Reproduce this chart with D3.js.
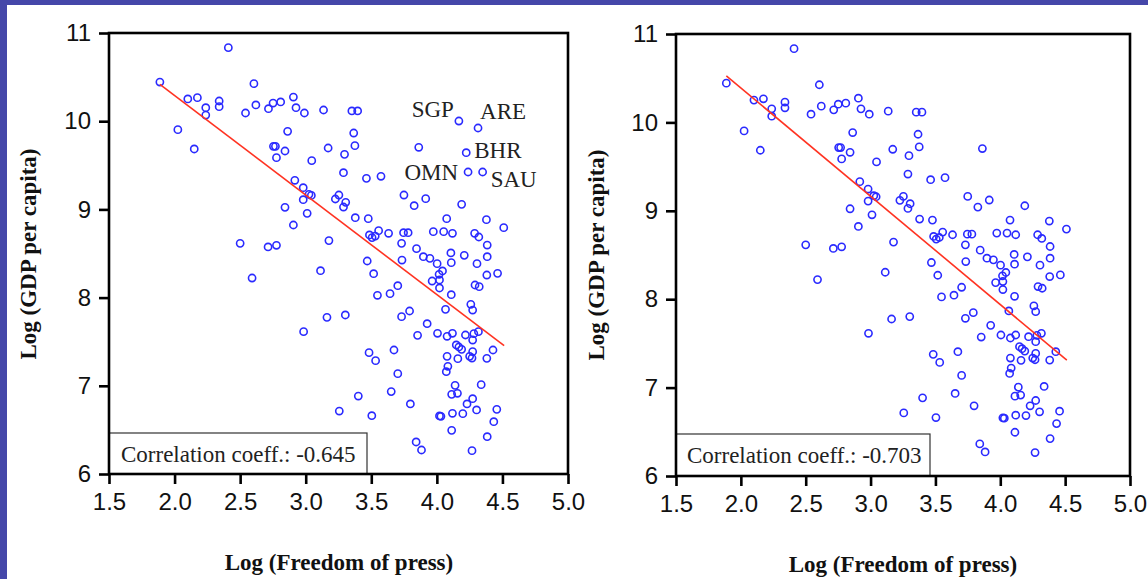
<!DOCTYPE html>
<html>
<head>
<meta charset="utf-8">
<script src="https://cdn.jsdelivr.net/npm/d3@7"></script>
<style>
  html, body { margin: 0; padding: 0; background: #fff; }
  svg { display: block; }
</style>
</head>
<body>
<svg id="chart" width="1148" height="579"></svg>
<script>
// ---------------- DATA ----------------
const xTicks = [1.5, 2.0, 2.5, 3.0, 3.5, 4.0, 4.5, 5.0];
const yTicks = [6, 7, 8, 9, 10, 11];

// points shared by both panels: Log(Freedom of press), Log(GDP per capita)
const freedom = [
  1.888, 2.410, 2.025, 2.150, 2.101, 2.174, 2.238, 2.238, 2.340, 2.340,
  2.541, 2.605, 2.620, 2.716, 2.751, 2.809, 2.906, 2.926, 2.990, 3.136,
  3.352, 3.396, 2.862, 2.754, 2.769, 2.842, 2.777, 3.046, 3.171, 3.366,
  3.375, 3.296, 3.288, 3.463, 3.574, 3.862,
  2.917, 2.981, 3.025, 3.043, 2.981, 2.842, 3.011, 2.906, 3.253, 3.226,
  3.305, 3.288, 3.378, 3.477, 3.749, 3.827, 3.915, 4.189, 4.075, 4.378,
  4.510, 3.556, 3.632, 3.486, 3.506, 3.530, 3.746, 3.781, 3.731, 3.973,
  4.052, 4.119, 4.288, 4.320, 4.384, 3.845, 3.897, 3.947, 4.002, 4.107,
  4.110, 4.209, 4.306, 4.384, 4.381, 4.463, 4.043, 4.017, 4.020, 3.964,
  4.020, 4.110, 4.291, 4.323, 3.702, 3.643, 3.547, 3.469, 3.734, 3.518,
  2.500, 2.713, 2.777, 3.177, 2.591, 3.113,
  4.066, 4.259, 4.273, 3.792, 3.731, 3.162, 3.302, 3.926, 2.984, 3.853,
  4.005, 4.078, 4.119, 4.218, 4.282, 4.317, 4.273, 4.148, 4.168, 4.189,
  4.078, 4.160, 4.250, 4.268, 4.273, 4.428, 4.381, 3.483, 3.533, 3.673,
  3.702, 4.072, 4.084, 4.139, 4.113, 4.157, 4.338, 3.652, 3.401, 3.256,
  3.504, 3.798, 4.273, 4.230, 4.303, 4.457, 4.020, 4.031, 4.119, 4.198,
  4.434, 4.113, 4.384, 3.842, 3.883, 4.268
];
const gdp = [
  10.444, 10.834, 9.904, 9.685, 10.252, 10.267, 10.153, 10.070, 10.229, 10.165,
  10.093, 10.426, 10.184, 10.142, 10.206, 10.218, 10.274, 10.153, 10.093, 10.127,
  10.116, 10.116, 9.885, 9.715, 9.715, 9.662, 9.587, 9.553, 9.696, 9.866,
  9.723, 9.624, 9.416, 9.352, 9.375, 9.704,
  9.330, 9.246, 9.171, 9.159, 9.110, 9.023, 8.955, 8.823, 9.163, 9.118,
  9.080, 9.027, 8.906, 8.895, 9.163, 9.042, 9.122, 9.057, 8.895, 8.884,
  8.793, 8.759, 8.729, 8.710, 8.680, 8.698, 8.736, 8.736, 8.615, 8.748,
  8.748, 8.729, 8.729, 8.687, 8.596, 8.555, 8.464, 8.445, 8.385, 8.506,
  8.396, 8.479, 8.385, 8.464, 8.256, 8.275, 8.302, 8.264, 8.200, 8.188,
  8.109, 8.033, 8.143, 8.124, 8.135, 8.045, 8.026, 8.415, 8.426, 8.271,
  8.615, 8.574, 8.593, 8.646, 8.222, 8.305,
  7.867, 7.924, 7.859, 7.848, 7.784, 7.776, 7.803, 7.704, 7.614, 7.572,
  7.595, 7.561, 7.595, 7.576, 7.591, 7.614, 7.519, 7.463, 7.440, 7.413,
  7.334, 7.308, 7.334, 7.315, 7.387, 7.406, 7.311, 7.376, 7.285, 7.406,
  7.138, 7.160, 7.221, 7.005, 6.903, 6.915, 7.013, 6.934, 6.884, 6.714,
  6.661, 6.794, 6.854, 6.794, 6.726, 6.733, 6.658, 6.654, 6.688, 6.684,
  6.593, 6.495, 6.423, 6.363, 6.272, 6.265
];

// labelled countries shown only in the left panel
const outlierCodes   = ["SGP", "ARE", "BHR", "OMN", "SAU"];
const outlierFreedom = [4.168, 4.314, 4.224, 4.238, 4.349];
const outlierGdp     = [10.002, 9.923, 9.643, 9.424, 9.424];

// fitted lines (endpoints)
const fitX      = [1.888, 4.513];
const leftFitY  = [10.418, 7.455];
const rightFitY = [10.527, 7.311];

const corrLabels = ["Correlation coeff.: -0.645", "Correlation coeff.: -0.703"];
const xTitle = "Log (Freedom of press)";
const yTitle = "Log (GDP per capita)";

// ---------------- LAYOUT / STYLE ----------------
const panels = [
  { x0: 109, x1: 568, y0: 33, y1: 474, ytx: 36, yty: 254, xtx: 339, xty: 570,
    boxRight: 367, boxTop: 433, textX: 121, textY: 462, withOutliers: true, fit: leftFitY, corr: corrLabels[0] },
  { x0: 676, x1: 1130, y0: 34, y1: 476, ytx: 604, yty: 255, xtx: 903, xty: 572,
    boxRight: 930, boxTop: 434, textX: 687, textY: 463, withOutliers: false, fit: rightFitY, corr: corrLabels[1] }
];
const labelStyle = {
  SGP: { anchor: "end", dx: -5, dy: -4 },
  ARE: { anchor: "start", dx: 2, dy: -9 },
  BHR: { anchor: "start", dx: 8, dy: 5 },
  OMN: { anchor: "end", dx: -10, dy: 8 },
  SAU: { anchor: "start", dx: 8, dy: 15 }
};
const serif = "'Liberation Serif', 'Times New Roman', serif";
const sans = "'Liberation Sans', Arial, sans-serif";
const serifSize = 23;
const pointColor = "#2a2aff";
const lineColor = "#ff3322";
const borderColor = "#4547a9";

const svg = d3.select("#chart");

// decorative border of the slide
svg.append("rect").attr("x", 0).attr("y", 0).attr("width", 1148).attr("height", 5).attr("fill", borderColor);
svg.append("rect").attr("x", 0).attr("y", 0).attr("width", 7).attr("height", 579).attr("fill", borderColor);

panels.forEach(p => {
  const x = d3.scaleLinear().domain([xTicks[0], xTicks[xTicks.length - 1]]).range([p.x0, p.x1]);
  const y = d3.scaleLinear().domain([yTicks[0], yTicks[yTicks.length - 1]]).range([p.y1, p.y0]);
  const g = svg.append("g");

  // points
  const pts = freedom.map((v, i) => ({ fx: v, gy: gdp[i] }));
  if (p.withOutliers) {
    outlierCodes.forEach((c, i) => pts.push({ fx: outlierFreedom[i], gy: outlierGdp[i], code: c }));
  }
  g.append("g").selectAll("circle").data(pts).join("circle")
    .attr("cx", d => x(d.fx)).attr("cy", d => y(d.gy)).attr("r", 3.6)
    .attr("fill", "none").attr("stroke", pointColor).attr("stroke-width", 1.6);

  // fit line
  g.append("line")
    .attr("x1", x(fitX[0])).attr("y1", y(p.fit[0]))
    .attr("x2", x(fitX[1])).attr("y2", y(p.fit[1]))
    .attr("stroke", lineColor).attr("stroke-width", 1.6);

  // labels
  if (p.withOutliers) {
    outlierCodes.forEach((c, i) => {
      const s = labelStyle[c];
      g.append("text")
        .attr("x", x(outlierFreedom[i]) + s.dx).attr("y", y(outlierGdp[i]) + s.dy)
        .attr("text-anchor", s.anchor)
        .attr("font-family", serif).attr("font-size", serifSize).attr("fill", "#222")
        .text(c);
    });
  }

  // correlation box
  g.append("rect")
    .attr("x", p.x0).attr("y", p.boxTop)
    .attr("width", p.boxRight - p.x0).attr("height", p.y1 - p.boxTop)
    .attr("fill", "#fff").attr("stroke", "#333").attr("stroke-width", 1.2);
  g.append("text")
    .attr("x", p.textX).attr("y", p.textY)
    .attr("font-family", serif).attr("font-size", serifSize).attr("fill", "#222")
    .text(p.corr);

  // frame
  g.append("rect")
    .attr("x", p.x0).attr("y", p.y0).attr("width", p.x1 - p.x0).attr("height", p.y1 - p.y0)
    .attr("fill", "none").attr("stroke", "#000").attr("stroke-width", 2.6);

  // axes
  const ax = g.append("g").attr("transform", `translate(0,${p.y1})`)
    .call(d3.axisBottom(x).tickValues(xTicks).tickFormat(d3.format(".1f")).tickSize(10).tickPadding(9));
  const ay = g.append("g").attr("transform", `translate(${p.x0},0)`)
    .call(d3.axisLeft(y).tickValues(yTicks).tickFormat(d3.format("d")).tickSize(10).tickPadding(8));
  [ax, ay].forEach(a => {
    a.select(".domain").remove();
    a.selectAll(".tick line").attr("stroke", "#000").attr("stroke-width", 2.6);
    a.selectAll(".tick text").attr("font-family", sans).attr("font-size", 24).attr("fill", "#111");
  });

  // titles
  g.append("text")
    .attr("x", p.xtx).attr("y", p.xty).attr("text-anchor", "middle")
    .attr("font-family", serif).attr("font-size", serifSize).attr("font-weight", "bold").attr("fill", "#111")
    .text(xTitle);
  g.append("text")
    .attr("transform", `translate(${p.ytx},${p.yty}) rotate(-90)`)
    .attr("text-anchor", "middle")
    .attr("font-family", serif).attr("font-size", serifSize).attr("font-weight", "bold").attr("fill", "#111")
    .text(yTitle);
});
</script>
</body>
</html>
